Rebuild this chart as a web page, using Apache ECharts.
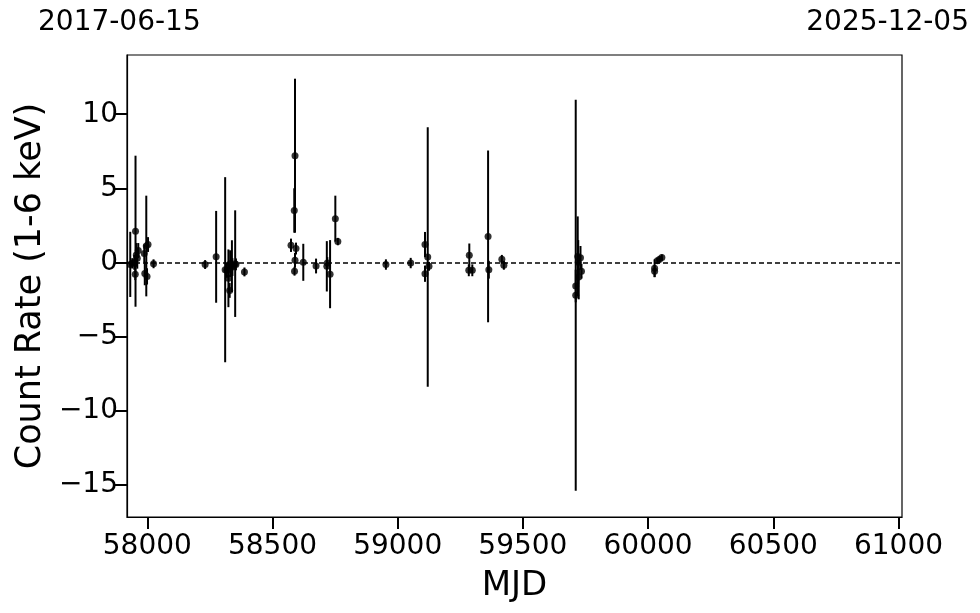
<!DOCTYPE html>
<html>
<head>
<meta charset="utf-8">
<script src="https://cdn.jsdelivr.net/npm/echarts@6/dist/echarts.min.js"></script>
<style>
html,body{margin:0;padding:0;background:#fff;}
#chart{width:980px;height:613px;}
</style>
</head>
<body>
<div id="chart"></div>
<script>
// Observation epochs (MJD)
const mjd = [
  57932, 57940, 57948, 57953, 57952, 57956, 57960, 57964, 57988, 57996, 57990, 57999, 58003, 58025,
  58231, 58275, 58311, 58318, 58324, 58329, 58331, 58338, 58340, 58351, 58354, 58388,
  58574, 58587, 58588, 58590, 58590, 58594, 58623, 58674, 58717, 58719, 58730, 58751, 58761,
  58953, 59052, 59109, 59109, 59120, 59125, 59284, 59286, 59298, 59361, 59364, 59416, 59424,
  59711, 59711, 59719, 59721, 59723, 59730, 59734,
  60026, 60026, 60037, 60046, 60055
];
// Count rate (1-6 keV)
const rate = [
  -0.14, -0.07, 0.0, 2.1, -0.8, 0.5, 0.27, 0.8, 0.6, 1.1, -0.75, -0.95, 1.2, -0.1,
  -0.15, 0.37, -0.5, -0.54, -1.08, -1.9, -0.09, -0.26, -0.32, -0.09, -0.14, -0.65,
  1.15, 3.5, -0.6, 7.2, 0.14, 0.93, 0.0, -0.25, -0.27, -0.05, -0.8, 2.95, 1.4,
  -0.15, -0.05, 1.2, -0.77, 0.36, -0.27, -0.54, 0.47, -0.54, 1.75, -0.5, 0.2, -0.2,
  -2.23, -1.6, 0.4, 0.0, -1.0, 0.3, -0.6,
  -0.4, -0.6, 0.1, 0.2, 0.33
];
// 1-sigma uncertainty
const err = [
  2.2, 0.35, 0.5, 5.1, 0.4, 0.8, 0.7, 0.5, 0.6, 3.4, 0.8, 0.55, 0.5, 0.3,
  0.3, 3.1, 6.25, 0.5, 1.95, 0.5, 0.9, 1.75, 0.6, 3.6, 0.4, 0.3,
  0.45, 1.5, 0.3, 5.2, 0.5, 0.4, 1.25, 0.5, 1.7, 0.4, 2.3, 1.55, 0.25,
  0.35, 0.35, 0.85, 0.55, 8.76, 0.3, 0.4, 0.8, 0.4, 5.8, 0.6, 0.3, 0.3,
  13.2, 1.1, 2.7, 1.5, 1.5, 0.8, 0.5,
  0.6, 0.4, 0.2, 0.2, 0.2
];
const xTicks = [58000, 58500, 59000, 59500, 60000, 60500, 61000];
const yTicks = [-15, -10, -5, 0, 5, 10];
const xMin = 57919, xMax = 61014;
const yMin = -17.2, yMax = 14;
const dateStart = '2017-06-15';
const dateEnd = '2025-12-05';

const pts = mjd.map((m, i) => [m, rate[i]]);
const bars = mjd.map((m, i) => [m, rate[i] - err[i], rate[i] + err[i]]);

const FONT = 'DejaVu Sans';
const chart = echarts.init(document.getElementById('chart'), null, {renderer: 'canvas'});
chart.setOption({
  animation: false,
  backgroundColor: '#fff',
  grid: {left: 127, right: 78, top: 55, bottom: 96, show: true, borderColor: '#000', borderWidth: 1.2, backgroundColor: 'transparent'},
  xAxis: {
    type: 'value', min: xMin, max: xMax,
    name: 'MJD', nameLocation: 'middle', nameGap: 52,
    nameTextStyle: {fontFamily: FONT, fontSize: 34, color: '#000'},
    axisLine: {show: true, onZero: false, lineStyle: {color: '#000', width: 1.2}},
    axisTick: {show: true, length: 12, lineStyle: {color: '#000', width: 2}, customValues: xTicks},
    axisLabel: {fontFamily: FONT, fontSize: 28, color: '#000', margin: 16, customValues: xTicks, formatter: v => String(v)},
    splitLine: {show: false}
  },
  yAxis: {
    type: 'value', min: yMin, max: yMax,
    name: 'Count Rate (1-6 keV)', nameLocation: 'middle', nameGap: 76, nameRotate: 90,
    nameTextStyle: {fontFamily: FONT, fontSize: 35, color: '#000'},
    axisLine: {show: true, onZero: false, lineStyle: {color: '#000', width: 1.2}},
    axisTick: {show: true, length: 12, lineStyle: {color: '#000', width: 2}, customValues: yTicks},
    axisLabel: {fontFamily: FONT, fontSize: 28, color: '#000', margin: 9, customValues: yTicks,
      formatter: v => v < 0 ? '\u2212' + Math.abs(v) : String(v)},
    splitLine: {show: false}
  },
  graphic: [
    {type: 'text', left: 38, top: 9, style: {text: dateStart, font: '28px "DejaVu Sans"', fill: '#000'}},
    {type: 'text', right: 11, top: 9, style: {text: dateEnd, font: '28px "DejaVu Sans"', fill: '#000'}}
  ],
  series: [
    {
      type: 'custom',
      data: bars,
      clip: true,
      renderItem: (params, api) => {
        const lo = api.coord([api.value(0), api.value(1)]);
        const hi = api.coord([api.value(0), api.value(2)]);
        return {type: 'line', shape: {x1: lo[0], y1: lo[1], x2: hi[0], y2: hi[1]},
          style: {stroke: '#000', lineWidth: 2}};
      },
      z: 2
    },
    {
      type: 'scatter',
      data: pts,
      symbol: 'circle',
      symbolSize: 7,
      itemStyle: {color: '#000'},
      z: 3,
      markLine: {
        silent: true, symbol: ['none', 'none'], label: {show: false},
        lineStyle: {color: '#000', type: [5, 3], width: 1.5},
        data: [{yAxis: 0}]
      }
    }
  ]
});
</script>
</body>
</html>
